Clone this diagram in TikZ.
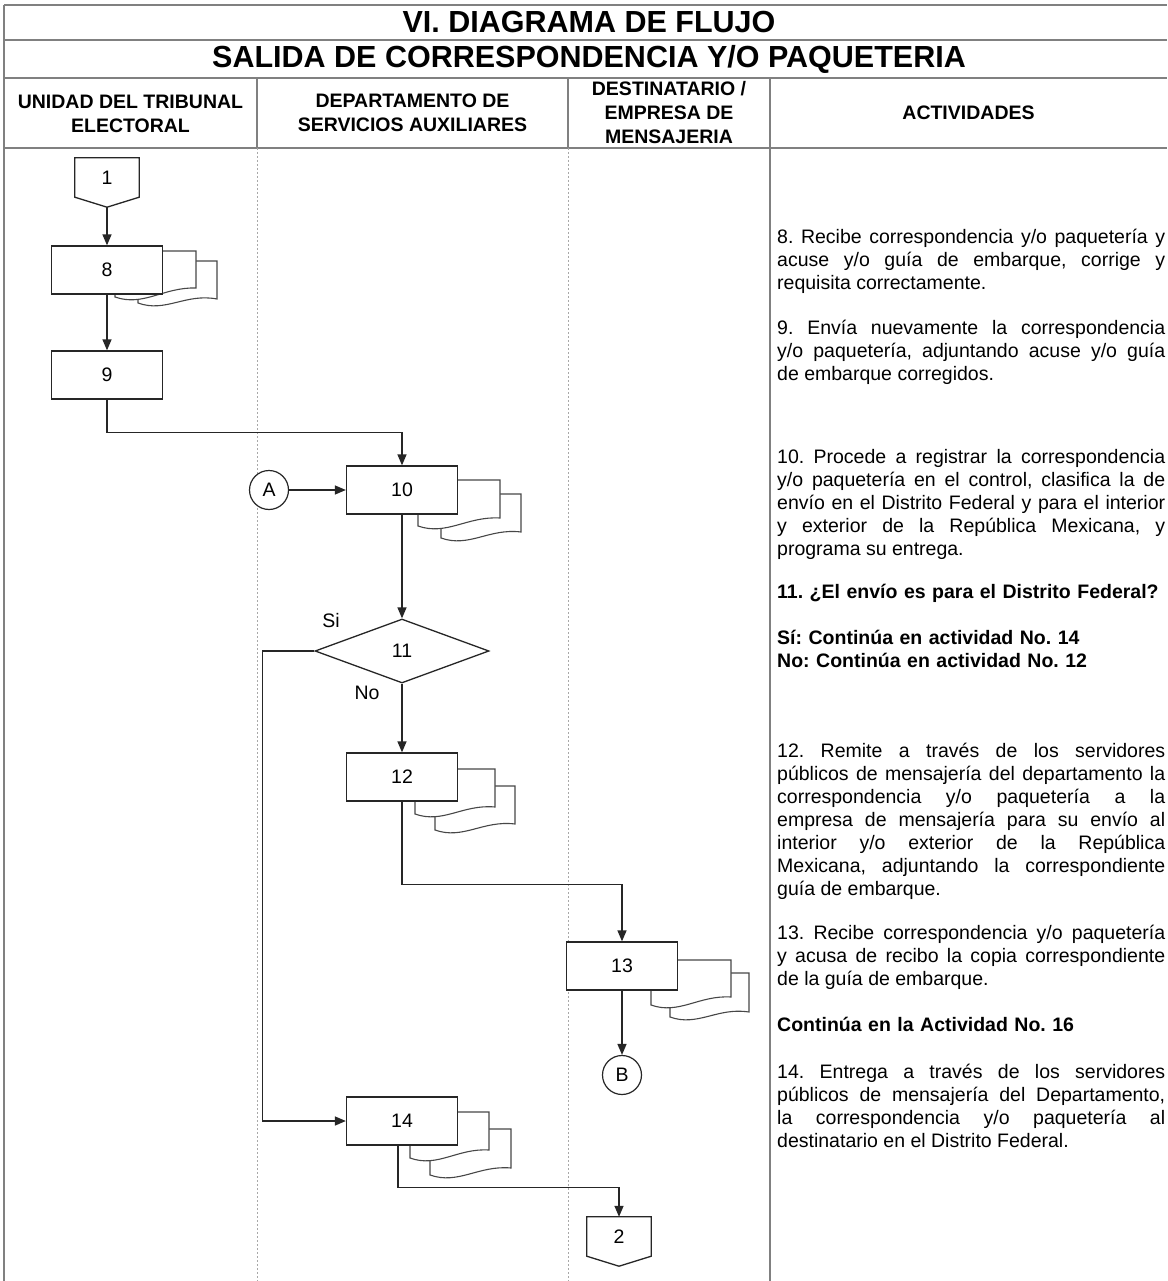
\documentclass[tikz,border=0pt]{standalone}
\usepackage{fontspec}
\setmainfont{Liberation Sans}
\usetikzlibrary{arrows.meta,shapes.geometric,calc}
\definecolor{gridgray}{HTML}{808080}
\definecolor{dotgray}{HTML}{A8A8A8}
\definecolor{inkc}{HTML}{262626}
\frenchspacing
\newcommand{\lblfont}{\fontsize{19.5}{23}\selectfont\frenchspacing\tolerance=9999\hyphenpenalty=10000\relax}
\newcommand{\docpage}[5]{%
  \filldraw[docline] (#1,#4) -- (#1,#2) -- (#3,#2) -- (#3,#5)
    .. controls ({#1+0.6*(#3-#1)},{#4-10}) and ({#1+0.35*(#3-#1)},{#4+10}) .. (#1,#4) -- cycle;}
\begin{document}
\begin{tikzpicture}[x=1pt,y=-1pt,
  frame/.style={draw=gridgray, line width=2.5pt},
  colline/.style={draw=gridgray, line width=2pt},
  dotline/.style={draw=dotgray, line width=1pt, dash pattern=on 2pt off 2pt},
  box/.style={draw=inkc, line width=1.3pt, fill=white, minimum width=111pt, minimum height=48pt, inner sep=0pt, font=\lblfont},
  offp/.style={rectangle, minimum width=64pt, minimum height=39pt, inner sep=0pt, font=\lblfont},
  shapeline/.style={draw=inkc, line width=1.3pt, fill=white},
  circ/.style={circle, draw=inkc, line width=1.2pt, minimum size=39pt, inner sep=0pt, fill=white, font=\lblfont},
  dec/.style={diamond, draw=inkc, line width=1.3pt, fill=white, aspect=2.72, minimum width=174pt, minimum height=64pt, inner sep=0pt, font=\lblfont},
  docline/.style={draw=inkc!85, line width=1.1pt, fill=white},
  conn/.style={draw=inkc, line width=1.4pt, -{Triangle[length=11pt,width=9pt]}},
  lbl/.style={inner sep=0pt, font=\lblfont},
  para/.style={anchor=north west, text width=388pt, align=justify, inner sep=0pt, font=\lblfont},
  bpara/.style={anchor=north west, text width=388pt, align=left, inner sep=0pt, font=\lblfont\bfseries},
  hdr/.style={font=\bfseries\fontsize{19.5}{24}\selectfont, align=center, inner sep=0pt},
  ttl/.style={font=\bfseries\fontsize{30.5}{34}\selectfont, inner sep=0pt}
]
\useasboundingbox (0,0) rectangle (1167,1281);
\fill[white] (0,0) rectangle (1167,1281);

% table frame
\draw[frame] (4,5) -- (1167,5);
\draw[frame] (4,40) -- (1167,40);
\draw[frame] (4,78) -- (1167,78);
\draw[frame] (4,148) -- (1167,148);
\draw[frame] (4,5) -- (4,1281);
\draw[colline] (257,78) -- (257,148);
\draw[colline] (568,78) -- (568,148);
\draw[colline] (770,78) -- (770,1281);
\draw[dotline] (257,148) -- (257,1281);
\draw[dotline] (568,148) -- (568,1281);

% titles and headers
\node[ttl] (t1) at (589,22.5) {VI. DIAGRAMA DE FLUJO};
\node[ttl] (t2) at (589,59.5) {SALIDA DE CORRESPONDENCIA Y/O PAQUETERIA};
\node[hdr] (h1) at (130.5,114) {UNIDAD DEL TRIBUNAL\\ELECTORAL};
\node[hdr] (h2) at (412.5,113) {DEPARTAMENTO DE\\SERVICIOS AUXILIARES};
\node[hdr] (h3) at (669,112.5) {DESTINATARIO /\\EMPRESA DE\\MENSAJERIA};
\node[hdr] (h4) at (968.5,113) {ACTIVIDADES};

% stacked documents behind the process boxes
\docpage{138}{261}{217}{303}{299}
\docpage{115}{251}{196}{297}{288}
\docpage{441}{494}{521}{538}{532}
\docpage{418}{480}{500}{526}{518}
\docpage{435}{786}{515}{830}{824}
\docpage{415}{769}{495}{814}{807}
\docpage{670}{973}{749}{1017}{1012}
\docpage{651}{960}{731}{1005}{997}
\docpage{430}{1129}{511}{1175}{1168}
\docpage{410}{1112}{489}{1158}{1150}

% nodes
\node[offp] (n1) at (107,177.5) {};
\draw[shapeline] (n1.north west) -- (n1.north east) -- (n1.south east) -- ($(n1.south)+(0,10)$) -- (n1.south west) -- cycle;
\node[lbl] (n1l) at (n1.center) {1};
\coordinate (n1tip) at ($(n1.south)+(0,10)$);
\node[box] (n8) at (107,270) {8};
\node[box] (n9) at (107,375) {9};
\node[circ] (A) at (269,490) {A};
\node[box] (n10) at (402,490) {10};
\node[dec] (n11) at (402,651) {11};
\node[lbl] (si) at (331,621) {Si};
\node[lbl] (no) at (367,693) {No};
\node[box] (n12) at (402,777) {12};
\node[box] (n13) at (622,966) {13};
\node[circ] (B) at (622,1075) {B};
\node[box] (n14) at (402,1121) {14};
\node[offp] (n2) at (619,1236.5) {};
\draw[shapeline] (n2.north west) -- (n2.north east) -- (n2.south east) -- ($(n2.south)+(0,10)$) -- (n2.south west) -- cycle;
\node[lbl] (n2l) at (n2.center) {2};

% connectors
\draw[conn] (n1tip) -- (n8.north);
\draw[conn] (n8.south) -- (n9.north);
\draw[conn] (n9.south) -- ++(0,33) -| (n10.north);
\draw[conn] (A.east) -- (n10.west);
\draw[conn] (n10.south) -- (n11.north);
\draw[conn] (n11.west) -- ++(-52,0) |- (n14.west);
\draw[conn] (n11.south) -- (n12.north);
\draw[conn] (n12.south) -- ++(0,83) -| (n13.north);
\draw[conn] (n13.south) -- (B.north);
\draw[conn] ($(n14.south)+(-4,0)$) -- ++(0,42) -| (n2.north);

% activities text
\node[para] (p8) at (777,229) {8. Recibe correspondencia y/o paquetería y\linebreak acuse y/o guía de embarque, corrige y\linebreak requisita correctamente.};
\node[para] (p9) at (777,320) {9. Envía nuevamente la correspondencia\linebreak y/o paquetería, adjuntando acuse y/o guía\linebreak de embarque corregidos.};
\node[para] (p10) at (777,449) {10. Procede a registrar la correspondencia\linebreak y/o paquetería en el control, clasifica la de\linebreak envío en el Distrito Federal y para el interior\linebreak y exterior de la República Mexicana, y\linebreak programa su entrega.};
\node[bpara] (p11) at (777,584) {11. ¿El envío es para el Distrito Federal?};
\node[bpara] (psn) at (777,630) {Sí: Continúa en actividad No. 14\\No: Continúa en actividad No. 12};
\node[para] (p12) at (777,743) {12. Remite a través de los servidores\linebreak públicos de mensajería del departamento la\linebreak correspondencia y/o paquetería a la\linebreak empresa de mensajería para su envío al\linebreak interior y/o exterior de la República\linebreak Mexicana, adjuntando la correspondiente\linebreak guía de embarque.};
\node[para] (p13) at (777,925) {13. Recibe correspondencia y/o paquetería\linebreak y acusa de recibo la copia correspondiente\linebreak de la guía de embarque.};
\node[bpara] (pc) at (777,1017) {Continúa en la Actividad No. 16};
\node[para] (p14) at (777,1064) {14. Entrega a través de los servidores\linebreak públicos de mensajería del Departamento,\linebreak la correspondencia y/o paquetería al\linebreak destinatario en el Distrito Federal.};
\end{tikzpicture}
\end{document}
